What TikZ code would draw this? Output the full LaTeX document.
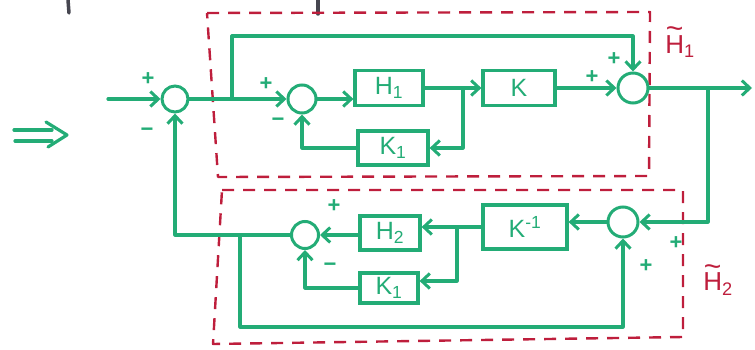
\documentclass[tikz,border=0pt]{standalone}
\usepackage{fontspec}
\setmainfont{Liberation Sans}
\setsansfont{Liberation Sans}
\usetikzlibrary{arrows.meta}
\definecolor{mgreen}{RGB}{35,172,118}
\definecolor{mred}{RGB}{190,30,60}
\definecolor{mgray}{RGB}{70,70,80}
\newcommand{\tildeH}[1]{\rlap{\hspace{0.02em}\raisebox{0.55em}{\fontsize{30}{30}\selectfont\char"7E}}H\textsubscript{#1}}
\tikzset{
  wire/.style={draw=mgreen, line width=3.2pt, line join=round, line cap=round},
  arr/.style={wire, -{Straight Barb[length=8pt,width=15pt,line width=3pt]}},
  blk/.style={draw=mgreen, line width=3.2pt, rectangle, inner sep=0pt, text=mgreen, font=\fontsize{25}{25}\selectfont},
  sumj/.style={draw=mgreen, line width=3pt, circle, inner sep=0pt},
  sgn/.style={text=mgreen, font=\fontsize{22}{22}\selectfont\bfseries, inner sep=0pt},
  frame/.style={draw=mred, line width=2.4pt, dash pattern=on 12pt off 9pt, line join=round},
  rlab/.style={text=mred, font=\fontsize{26}{26}\selectfont, inner sep=0pt}
}
\begin{document}
\begin{tikzpicture}[x=1pt,y=-1pt]
\useasboundingbox (0,0) rectangle (755,350);
% grey fragments at top
\draw[mgray, line width=3.5pt, line cap=round] (68,0) -- (69,13);
\draw[mgray, line width=3.5pt, line cap=round] (318,0) -- (318,14);
% dashed frames
\draw[frame] (207,13) -- (650,12) -- (649,176) -- (218,177) -- cycle;
\draw[frame] (222,190) -- (683,190) -- (683,337) -- (213,344) -- cycle;
\node[rlab] (h1t) at (680,42) {\tildeH{1}};
\node[rlab] (h2t) at (718,280) {\tildeH{2}};
% double arrow
\draw[wire] (14,130) -- (52,130);
\draw[wire] (15,141) -- (52,141);
\draw[wire] (46,122) -- (67,135) -- (48,147);
% junctions
\node[sumj, minimum size=26pt] (s1) at (175,99) {};
\node[sumj, minimum size=28pt] (s2) at (302,99) {};
\node[sumj, minimum size=30pt] (s4) at (633,88) {};
\node[sumj, minimum size=30pt] (s5) at (623,222) {};
\node[sumj, minimum size=27pt] (s3) at (305,235) {};
% blocks
\node[blk, minimum width=68pt, minimum height=35pt] (H1) at (389,88) {H\textsubscript{1}};
\node[blk, minimum width=72pt, minimum height=35pt] (K) at (519,88) {K};
\node[blk, minimum width=70pt, minimum height=34pt] (K1a) at (393,148) {K\textsubscript{1}};
\node[blk, minimum width=84pt, minimum height=44pt] (Kinv) at (525,227) {K\textsuperscript{-1}};
\node[blk, minimum width=60pt, minimum height=34pt] (H2) at (390,233) {H\textsubscript{2}};
\node[blk, minimum width=58pt, minimum height=30pt] (K1b) at (389,288) {K\textsubscript{1}};
% coordinates
\coordinate (in) at (108,99);
\coordinate (b1) at (232,99);
\coordinate (t1) at (232,36);
\coordinate (b2) at (463,88);
\coordinate (out) at (752,88);
\coordinate (b3) at (708,88);
\coordinate (b4) at (457,227);
\coordinate (b5) at (240,235);
\coordinate (c2) at (240,327);
% connectors
\draw[arr] (in) -- (s1.west);
\draw[wire] (s1.east) -- (b1);
\draw[arr] (b1) -- (s2.west);
\draw[arr] (b1) -- (t1) -| (s4.north);
\draw[arr] (s2.east) -- (s2 -| H1.west);
\draw[arr] (H1.east) -- (K.west);
\draw[arr] (b2) |- (K1a.east);
\draw[arr] (K1a.west) -| (s2.south);
\draw[arr] (K.east) -- (s4.west);
\draw[arr] (s4.east) -- (out);
\draw[arr] (b3) |- (s5.east);
\draw[arr] (s5.west) -- (s5 -| Kinv.east);
\draw[arr] (Kinv.west) -- (Kinv.west -| H2.east);
\draw[arr] (b4) |- ([yshift=7pt]K1b.east);
\draw[arr] (H2.west |- s3) -- (s3.east);
\draw[arr] (K1b.west) -| (s3.south);
\draw[arr] (s3.west) -| (s1.south);
\draw[arr] (b5) -- (c2) -| (s5.south);
% signs
\node[sgn] (p1) at (148,79) {+};
\node[sgn] (m1) at (147,132) {−};
\node[sgn] (p2) at (266,84) {+};
\node[sgn] (m2) at (278,122) {−};
\node[sgn] (p4a) at (614,59) {+};
\node[sgn] (p4b) at (592,77) {+};
\node[sgn] (p5a) at (676,243) {+};
\node[sgn] (p5b) at (646,266) {+};
\node[sgn] (p3a) at (334,206) {+};
\node[sgn] (m3) at (330,267) {−};
\end{tikzpicture}
\end{document}
